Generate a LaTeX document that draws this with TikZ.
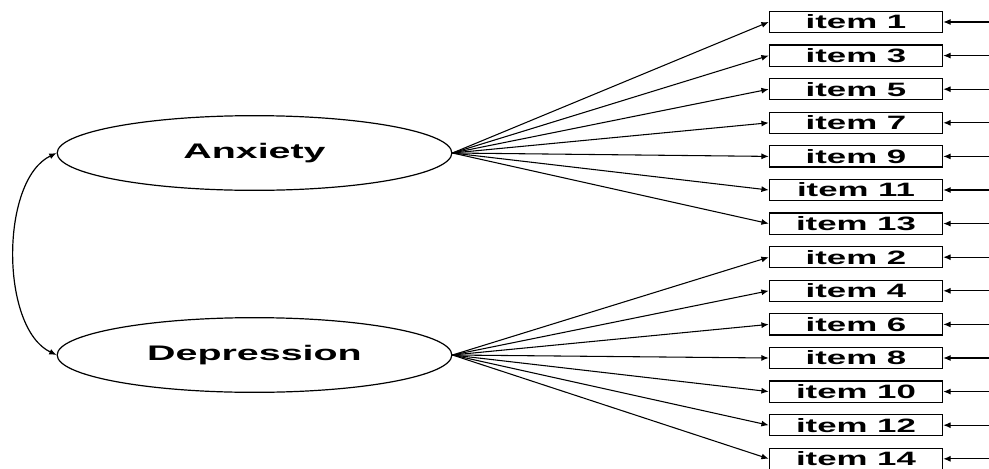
\documentclass[tikz,border=0pt]{standalone}
\usepackage{fontspec}
\usepackage{graphicx}
\setmainfont{Liberation Sans}
\usetikzlibrary{arrows.meta,shapes.geometric}
\newcommand\widetext[1]{\scalebox{1.8}[1]{#1}}
\newcommand\widelat[1]{\scalebox{1.87}[1]{#1}}
\begin{document}
\begin{tikzpicture}[x=0.75pt,y=-0.75pt,
  lat/.style={ellipse,draw,line width=0.9pt,minimum width=296pt,minimum height=56pt,inner sep=0pt,font=\fontsize{15.8}{18}\selectfont\bfseries},
  itembox/.style={rectangle,draw,line width=0.9pt,minimum width=130pt,minimum height=16pt,inner sep=0pt,font=\fontsize{14.5}{16}\selectfont\bfseries},
  load/.style={-{Latex[length=5.5pt,width=4.5pt]},line width=0.8pt},
  cov/.style={{Latex[length=5.5pt,width=4.5pt]}-{Latex[length=5.5pt,width=4.5pt]},line width=0.9pt},
  ]
\useasboundingbox (0,0) rectangle (989,468);
\clip (0,0) rectangle (989,468);
\node[lat] (anx) at (254.5,153) {\widelat{Anxiety}};
\node[lat] (dep) at (254.5,355) {\widelat{Depression}};
\foreach \lab [count=\k from 0] in {1,3,5,7,9,11,13,2,4,6,8,10,12,14} {
  \pgfmathsetmacro{\yy}{22+\k*33.6}
  \node[itembox] (i\lab) at (856,\yy) {\widetext{item \lab}};
  \coordinate (e\lab) at (989,\yy);
  \draw[load] (e\lab) -- (i\lab.east);
}
\foreach \lab in {1,3,5,7,9,11,13} { \draw[load] (anx.east) -- (i\lab.west); }
\foreach \lab in {2,4,6,8,10,12,14} { \draw[load] (dep.east) -- (i\lab.west); }
\draw[cov] (anx.west) .. controls (0,180) and (0,328) .. (dep.west);
\end{tikzpicture}
\end{document}
